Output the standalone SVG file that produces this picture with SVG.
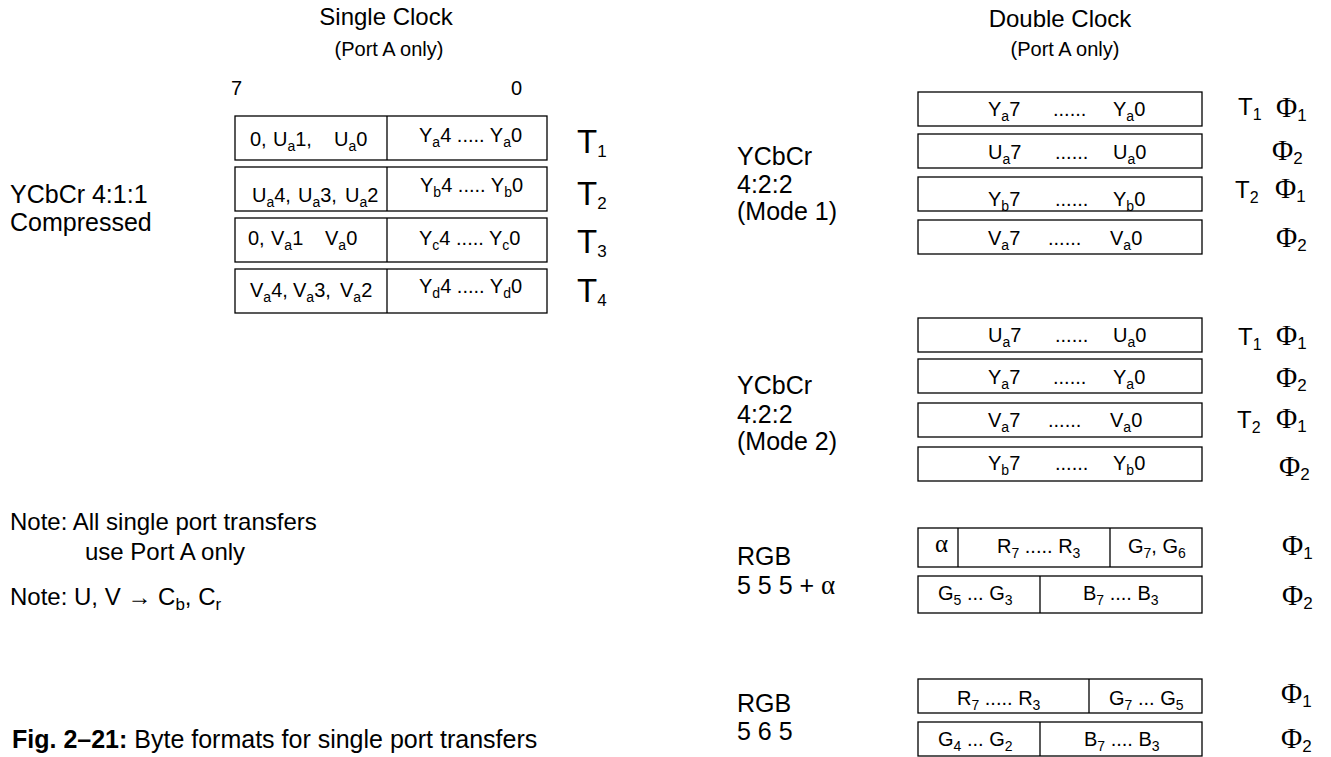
<svg xmlns="http://www.w3.org/2000/svg" width="1331" height="757" viewBox="0 0 1331 757">
<style>
text{font-family:"Liberation Sans",Arial,sans-serif;fill:#000}
.lbl{font-size:25px}
.ttl{font-size:24px}
.sml{font-size:20px}
.bx{font-size:20px}
.s{font-size:14px}
.bt{font-size:33px}
.bts{font-size:17px}
.rt{font-size:24px}
.rts{font-size:16px}
.ph{font-family:"Liberation Serif","Times New Roman",serif;font-size:29px}
.phs{font-family:"Liberation Sans",Arial,sans-serif;font-size:17px}
.al{font-family:"Liberation Serif","Times New Roman",serif}
rect{fill:#fff;stroke:#000;stroke-width:1.3}
line{stroke:#000;stroke-width:1.3}
</style>
<rect x="0" y="0" width="1331" height="757" style="fill:#fff;stroke:none"/>
<g id="connectors"/>

<g id="titles">
<text class="ttl" x="386" y="25" text-anchor="middle">Single Clock</text>
<text class="sml" x="389" y="56" text-anchor="middle">(Port A only)</text>
<text class="ttl" x="1060" y="27" text-anchor="middle">Double Clock</text>
<text class="sml" x="1065" y="56" text-anchor="middle">(Port A only)</text>
</g>

<g id="left-labels">
<text class="lbl" x="10" y="203">YCbCr 4:1:1</text>
<text class="lbl" x="10" y="231">Compressed</text>
<text class="ttl" x="10" y="530">Note: All single port transfers</text>
<text class="ttl" x="85" y="560">use Port A only</text>
<text class="ttl" x="10" y="605">Note: U, V → C<tspan font-size="17" dy="5">b</tspan><tspan dy="-5">, C</tspan><tspan font-size="17" dy="5">r</tspan></text>
<text x="12" y="748" font-size="25"><tspan font-weight="bold">Fig. 2–21:</tspan> Byte formats for single port transfers</text>
</g>

<g id="single-clock">
<text class="sml" x="231" y="95">7</text>
<text class="sml" x="511" y="95">0</text>
<g id="sc-row1">
<rect x="235" y="116" width="312" height="44"/><line x1="387" y1="116" x2="387" y2="160"/>
<text class="bx" y="146"><tspan x="250">0,</tspan><tspan x="273">U</tspan><tspan class="s" dy="5">a</tspan><tspan dy="-5">1,</tspan><tspan x="334">U</tspan><tspan class="s" dy="5">a</tspan><tspan dy="-5">0</tspan></text>
<text class="bx" x="419" y="142">Y<tspan class="s" dy="5">a</tspan><tspan dy="-5">4 ..... Y</tspan><tspan class="s" dy="5">a</tspan><tspan dy="-5">0</tspan></text>
<text class="bt" x="577" y="153">T<tspan class="bts" dy="4">1</tspan></text>
</g>
<g id="sc-row2">
<rect x="235" y="167" width="312" height="44"/><line x1="387" y1="167" x2="387" y2="211"/>
<text class="bx" y="202"><tspan x="252">U</tspan><tspan class="s" dy="5">a</tspan><tspan dy="-5">4,</tspan><tspan x="298">U</tspan><tspan class="s" dy="5">a</tspan><tspan dy="-5">3,</tspan><tspan x="345">U</tspan><tspan class="s" dy="5">a</tspan><tspan dy="-5">2</tspan></text>
<text class="bx" x="420" y="192">Y<tspan class="s" dy="5">b</tspan><tspan dy="-5">4 ..... Y</tspan><tspan class="s" dy="5">b</tspan><tspan dy="-5">0</tspan></text>
<text class="bt" x="577" y="205">T<tspan class="bts" dy="4">2</tspan></text>
</g>
<g id="sc-row3">
<rect x="235" y="218" width="312" height="44"/><line x1="387" y1="218" x2="387" y2="262"/>
<text class="bx" y="245"><tspan x="248">0,</tspan><tspan x="271">V</tspan><tspan class="s" dy="5">a</tspan><tspan dy="-5">1</tspan><tspan x="325">V</tspan><tspan class="s" dy="5">a</tspan><tspan dy="-5">0</tspan></text>
<text class="bx" x="419" y="245">Y<tspan class="s" dy="5">c</tspan><tspan dy="-5">4 ..... Y</tspan><tspan class="s" dy="5">c</tspan><tspan dy="-5">0</tspan></text>
<text class="bt" x="577" y="253">T<tspan class="bts" dy="4">3</tspan></text>
</g>
<g id="sc-row4">
<rect x="235" y="269" width="312" height="44"/><line x1="387" y1="269" x2="387" y2="313"/>
<text class="bx" y="297"><tspan x="250">V</tspan><tspan class="s" dy="5">a</tspan><tspan dy="-5">4,</tspan><tspan x="293">V</tspan><tspan class="s" dy="5">a</tspan><tspan dy="-5">3,</tspan><tspan x="340">V</tspan><tspan class="s" dy="5">a</tspan><tspan dy="-5">2</tspan></text>
<text class="bx" x="419" y="293">Y<tspan class="s" dy="5">d</tspan><tspan dy="-5">4 ..... Y</tspan><tspan class="s" dy="5">d</tspan><tspan dy="-5">0</tspan></text>
<text class="bt" x="577" y="302">T<tspan class="bts" dy="4">4</tspan></text>
</g>
</g>

<g id="mode1">
<text class="lbl" x="737" y="165">YCbCr</text>
<text class="lbl" x="737" y="193">4:2:2</text>
<text class="lbl" x="737" y="220">(Mode 1)</text>
<g id="m1-row1">
<rect x="918" y="92" width="284" height="34"/>
<text class="bx" x="988" y="116">Y<tspan class="s" dy="5">a</tspan><tspan dy="-5">7</tspan></text>
<text class="bx" x="1053" y="116">......</text>
<text class="bx" x="1113" y="116">Y<tspan class="s" dy="5">a</tspan><tspan dy="-5">0</tspan></text>
<text class="rt" x="1238" y="115">T<tspan class="rts" dy="5">1</tspan></text>
<text x="1276" y="117"><tspan class="ph">Φ</tspan><tspan class="phs" dy="4">1</tspan></text>
</g>
<g id="m1-row2">
<rect x="918" y="134" width="284" height="34"/>
<text class="bx" x="988" y="159">U<tspan class="s" dy="5">a</tspan><tspan dy="-5">7</tspan></text>
<text class="bx" x="1055" y="159">......</text>
<text class="bx" x="1113" y="159">U<tspan class="s" dy="5">a</tspan><tspan dy="-5">0</tspan></text>
<text x="1272" y="160"><tspan class="ph">Φ</tspan><tspan class="phs" dy="4">2</tspan></text>
</g>
<g id="m1-row3">
<rect x="918" y="177" width="284" height="34"/>
<text class="bx" x="988" y="206">Y<tspan class="s" dy="5">b</tspan><tspan dy="-5">7</tspan></text>
<text class="bx" x="1055" y="206">......</text>
<text class="bx" x="1113" y="206">Y<tspan class="s" dy="5">b</tspan><tspan dy="-5">0</tspan></text>
<text class="rt" x="1235" y="198">T<tspan class="rts" dy="5">2</tspan></text>
<text x="1275" y="198"><tspan class="ph">Φ</tspan><tspan class="phs" dy="4">1</tspan></text>
</g>
<g id="m1-row4">
<rect x="918" y="220" width="284" height="34"/>
<text class="bx" x="988" y="245">V<tspan class="s" dy="5">a</tspan><tspan dy="-5">7</tspan></text>
<text class="bx" x="1048" y="245">......</text>
<text class="bx" x="1110" y="245">V<tspan class="s" dy="5">a</tspan><tspan dy="-5">0</tspan></text>
<text x="1276" y="247"><tspan class="ph">Φ</tspan><tspan class="phs" dy="4">2</tspan></text>
</g>
</g>

<g id="mode2">
<text class="lbl" x="737" y="394">YCbCr</text>
<text class="lbl" x="737" y="423">4:2:2</text>
<text class="lbl" x="737" y="450">(Mode 2)</text>
<g id="m2-row1">
<rect x="918" y="318" width="284" height="34"/>
<text class="bx" x="988" y="342">U<tspan class="s" dy="5">a</tspan><tspan dy="-5">7</tspan></text>
<text class="bx" x="1055" y="342">......</text>
<text class="bx" x="1113" y="342">U<tspan class="s" dy="5">a</tspan><tspan dy="-5">0</tspan></text>
<text class="rt" x="1238" y="345">T<tspan class="rts" dy="5">1</tspan></text>
<text x="1276" y="345"><tspan class="ph">Φ</tspan><tspan class="phs" dy="4">1</tspan></text>
</g>
<g id="m2-row2">
<rect x="918" y="359" width="284" height="34"/>
<text class="bx" x="988" y="384">Y<tspan class="s" dy="5">a</tspan><tspan dy="-5">7</tspan></text>
<text class="bx" x="1053" y="384">......</text>
<text class="bx" x="1113" y="384">Y<tspan class="s" dy="5">a</tspan><tspan dy="-5">0</tspan></text>
<text x="1276" y="387"><tspan class="ph">Φ</tspan><tspan class="phs" dy="4">2</tspan></text>
</g>
<g id="m2-row3">
<rect x="918" y="403" width="284" height="34"/>
<text class="bx" x="988" y="427">V<tspan class="s" dy="5">a</tspan><tspan dy="-5">7</tspan></text>
<text class="bx" x="1048" y="427">......</text>
<text class="bx" x="1110" y="427">V<tspan class="s" dy="5">a</tspan><tspan dy="-5">0</tspan></text>
<text class="rt" x="1237" y="428">T<tspan class="rts" dy="5">2</tspan></text>
<text x="1276" y="428"><tspan class="ph">Φ</tspan><tspan class="phs" dy="4">1</tspan></text>
</g>
<g id="m2-row4">
<rect x="918" y="447" width="284" height="34"/>
<text class="bx" x="988" y="470">Y<tspan class="s" dy="5">b</tspan><tspan dy="-5">7</tspan></text>
<text class="bx" x="1055" y="470">......</text>
<text class="bx" x="1113" y="470">Y<tspan class="s" dy="5">b</tspan><tspan dy="-5">0</tspan></text>
<text x="1279" y="476"><tspan class="ph">Φ</tspan><tspan class="phs" dy="4">2</tspan></text>
</g>
</g>

<g id="rgb555">
<text class="lbl" x="737" y="565">RGB</text>
<text class="lbl" x="737" y="594">5 5 5 + <tspan class="al" font-size="27">α</tspan></text>
<g id="rgb555-row1">
<rect x="918" y="528" width="284" height="39"/>
<line x1="958" y1="528" x2="958" y2="567"/>
<line x1="1110" y1="528" x2="1110" y2="567"/>
<text class="al" x="935" y="552" font-size="25">α</text>
<text class="bx" x="997" y="553">R<tspan class="s" dy="5">7</tspan><tspan dy="-5"> ..... R</tspan><tspan class="s" dy="5">3</tspan></text>
<text class="bx" x="1128" y="553">G<tspan class="s" dy="5">7</tspan><tspan dy="-5">, G</tspan><tspan class="s" dy="5">6</tspan></text>
<text x="1282" y="555"><tspan class="ph">Φ</tspan><tspan class="phs" dy="4">1</tspan></text>
</g>
<g id="rgb555-row2">
<rect x="918" y="576" width="284" height="37"/>
<line x1="1040" y1="576" x2="1040" y2="613"/>
<text class="bx" x="938" y="600">G<tspan class="s" dy="5">5</tspan><tspan dy="-5"> ... G</tspan><tspan class="s" dy="5">3</tspan></text>
<text class="bx" x="1083" y="600">B<tspan class="s" dy="5">7</tspan><tspan dy="-5"> .... B</tspan><tspan class="s" dy="5">3</tspan></text>
<text x="1282" y="605"><tspan class="ph">Φ</tspan><tspan class="phs" dy="4">2</tspan></text>
</g>
</g>

<g id="rgb565">
<text class="lbl" x="737" y="712">RGB</text>
<text class="lbl" x="737" y="740">5 6 5</text>
<g id="rgb565-row1">
<rect x="918" y="679" width="284" height="34"/>
<line x1="1089" y1="679" x2="1089" y2="713"/>
<text class="bx" x="957" y="705">R<tspan class="s" dy="5">7</tspan><tspan dy="-5"> ..... R</tspan><tspan class="s" dy="5">3</tspan></text>
<text class="bx" x="1109" y="705">G<tspan class="s" dy="5">7</tspan><tspan dy="-5"> ... G</tspan><tspan class="s" dy="5">5</tspan></text>
<text x="1281" y="703"><tspan class="ph">Φ</tspan><tspan class="phs" dy="4">1</tspan></text>
</g>
<g id="rgb565-row2">
<rect x="918" y="722" width="284" height="34"/>
<line x1="1040" y1="722" x2="1040" y2="756"/>
<text class="bx" x="938" y="746">G<tspan class="s" dy="5">4</tspan><tspan dy="-5"> ... G</tspan><tspan class="s" dy="5">2</tspan></text>
<text class="bx" x="1084" y="746">B<tspan class="s" dy="5">7</tspan><tspan dy="-5"> .... B</tspan><tspan class="s" dy="5">3</tspan></text>
<text x="1281" y="748"><tspan class="ph">Φ</tspan><tspan class="phs" dy="4">2</tspan></text>
</g>
</g>
</svg>
